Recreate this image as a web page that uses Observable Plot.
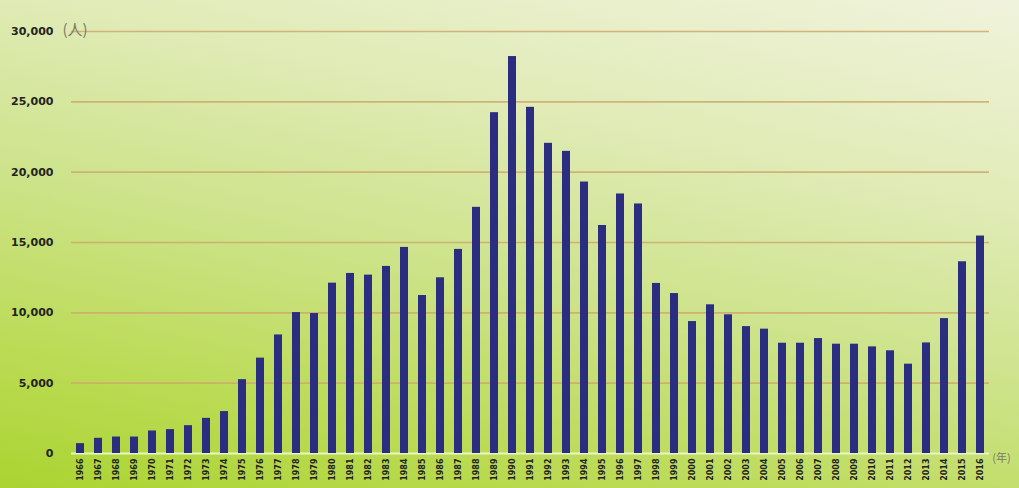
<!DOCTYPE html>
<html>
<head>
<meta charset="utf-8">
<script src="https://cdn.jsdelivr.net/npm/d3@7"></script>
<script src="https://cdn.jsdelivr.net/npm/@observablehq/plot@0.6"></script>
<style>
  html, body { margin: 0; padding: 0; }
  #chart {
    width: 1019px; height: 488px; overflow: hidden;
    background: linear-gradient(12deg, #aad431 0%, #bbdb55 20%, #cde38a 45%, #e0ebb6 70%, #f0f3dc 100%);
  }
  #chart svg { display: block; }
</style>
</head>
<body>
<div id="chart"></div>
<script>
const years = ["1966","1967","1968","1969","1970","1971","1972","1973","1974","1975",
  "1976","1977","1978","1979","1980","1981","1982","1983","1984","1985",
  "1986","1987","1988","1989","1990","1991","1992","1993","1994","1995",
  "1996","1997","1998","1999","2000","2001","2002","2003","2004","2005",
  "2006","2007","2008","2009","2010","2011","2012","2013","2014","2015","2016"];
const values = [700,1080,1170,1170,1600,1700,1980,2500,2980,5250,
  6780,8430,10020,9950,12110,12800,12680,13300,14650,11230,
  12490,14510,17500,24230,28220,24610,22050,21480,19300,16210,
  18450,17740,12090,11370,9380,10570,9860,9020,8840,7840,
  7840,8170,7770,7770,7580,7300,6350,7860,9590,13630,15460];
const yTicks = [0,5000,10000,15000,20000,25000,30000];
const unitY = "(人)";
const unitX = "(年)";

const data = years.map((y, i) => ({year: y, value: values[i]}));

const chart = Plot.plot({
  width: 1019,
  height: 488,
  marginLeft: 71,
  marginRight: 30,
  marginTop: 31,
  marginBottom: 35,
  style: {background: "transparent", overflow: "visible"},
  x: {type: "band", domain: years, paddingInner: 0.58, paddingOuter: 0.29},
  y: {domain: [0, 30000]},
  marks: [
    Plot.ruleY(yTicks.filter(d => d > 0), {stroke: "#cfa86c", strokeWidth: 1.6, strokeOpacity: 0.85}),
    Plot.ruleY([0], {stroke: "#eef3c4", strokeWidth: 2}),
    Plot.barY(data, {x: "year", y: "value", fill: "#2b2d80"}),
    Plot.axisY({ticks: yTicks, tickFormat: d3.format(","), tickSize: 0, tickPadding: 18,
      fontSize: 11, fontFamily: "DejaVu Sans", fontWeight: "bold", fill: "#222", label: null}),
    Plot.axisX({tickRotate: -90, tickSize: 0, tickPadding: 5, fontSize: 8,
      fontFamily: "DejaVu Sans", fontWeight: "bold", fill: "#222", label: null}),
    Plot.text([unitY], {frameAnchor: "top-left", dx: -9, dy: -7, text: d => d,
      fontSize: 15, fill: "#7a7a6a", fontFamily: "Noto Sans CJK JP", textAnchor: "start"}),
    Plot.text([unitX], {frameAnchor: "bottom-right", dx: 12, dy: 8, text: d => d,
      fontSize: 11, fill: "#7a7a6a", fontFamily: "Noto Sans CJK JP", textAnchor: "middle"})
  ]
});
document.getElementById("chart").appendChild(chart);
</script>
</body>
</html>
